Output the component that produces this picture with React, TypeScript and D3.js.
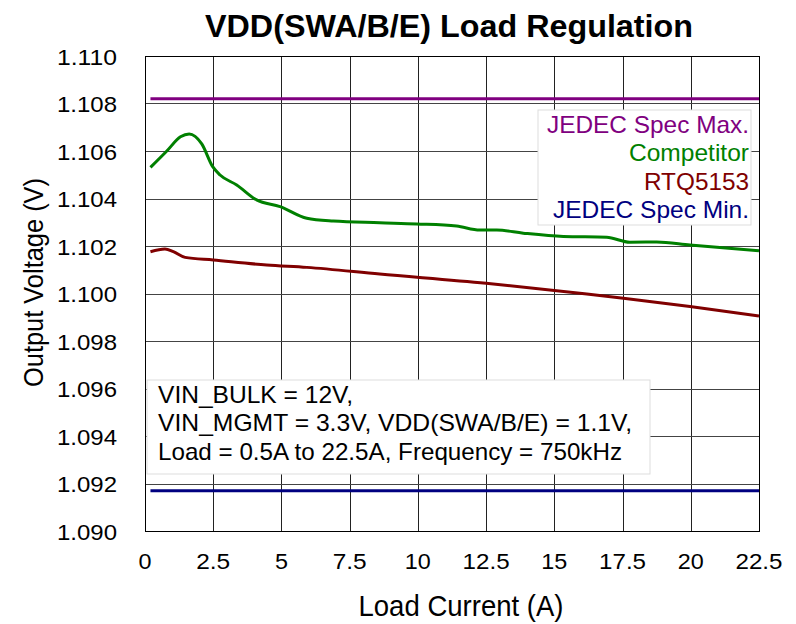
import React from "react";
import * as d3 from "d3";

const xTicks = [0, 2.5, 5, 7.5, 10, 12.5, 15, 17.5, 20, 22.5];
const xTickLabels = ["0", "2.5", "5", "7.5", "10", "12.5", "15", "17.5", "20", "22.5"];
const yTicks = [1.09, 1.092, 1.094, 1.096, 1.098, 1.1, 1.102, 1.104, 1.106, 1.108, 1.11];
const yTickLabels = ["1.090", "1.092", "1.094", "1.096", "1.098", "1.100", "1.102", "1.104", "1.106", "1.108", "1.110"];

const competitorX = [0.2, 0.8, 1.3, 1.62, 2.08, 2.48, 2.75, 3.36, 4.09, 4.95, 5.93, 6.9, 8.6, 9.96, 11.42, 12.27, 12.89, 13.86, 15.33, 16.92, 17.77, 18.75, 19.97, 22.5];
const competitorV = [1.10531, 1.1060, 1.1066, 1.10672, 1.1063, 1.10534, 1.10499, 1.10457, 1.10394, 1.10366, 1.10317, 1.10305, 1.10298, 1.10293, 1.10284, 1.10267, 1.10267, 1.10254, 1.1024, 1.10237, 1.10216, 1.10217, 1.10204, 1.1018];
const rtqX = [0.2, 0.73, 1.04, 1.47, 2.5, 4.46, 5.93, 8.6, 12.5, 16.19, 17.53, 19.97, 22.5];
const rtqV = [1.10176, 1.10187, 1.10176, 1.10152, 1.10141, 1.1012, 1.1011, 1.10082, 1.10043, 1.09998, 1.0998, 1.09945, 1.09905];
const specX = [0.2, 22.5];
const specMax = [1.1082, 1.1082];
const specMin = [1.0917, 1.0917];

const legendLabels = ["JEDEC Spec Max.", "Competitor", "RTQ5153", "JEDEC Spec Min."];
const legendColors = ["#800080", "#008000", "#800000", "#000080"];
const legendWidths = [202, 120, 105, 196];
const noteLines = [
  "VIN_BULK = 12V,",
  "VIN_MGMT = 3.3V, VDD(SWA/B/E) = 1.1V,",
  "Load = 0.5A to 22.5A, Frequency = 750kHz",
];
const noteWidths = [195, 474, 464];

const FONT = "'Liberation Sans', Arial, sans-serif";

const labelWidth = (s: string) => {
  let w = 0;
  for (const c of s) w += c === "." ? 8 : 13;
  return w;
};

export default function App() {
  const left = 145, right = 759, top = 56, bottom = 531;
  const x = d3.scaleLinear().domain([0, 22.5]).range([left, right]);
  const y = d3.scaleLinear().domain([1.09, 1.11]).range([bottom, top]);

  const line = (xs: number[], vs: number[], curve: d3.CurveFactory = d3.curveMonotoneX) =>
    d3
      .line<number>()
      .x((_, i) => x(xs[i]))
      .y((v) => y(v))
      .curve(curve)(vs) || "";

  return (
    <svg width={796} height={624} style={{ position: "absolute", left: 0, top: 0, background: "#fff" }} fontFamily={FONT}>
      <rect x={0} y={0} width={796} height={624} fill="#fff" />
      {xTicks.map((t) => (
        <line key={"gx" + t} x1={Math.round(x(t)) + 0.5} x2={Math.round(x(t)) + 0.5} y1={top} y2={bottom} stroke="#222" strokeWidth={1} />
      ))}
      {yTicks.map((t) => (
        <line key={"gy" + t} x1={left} x2={right} y1={Math.round(y(t)) + 0.5} y2={Math.round(y(t)) + 0.5} stroke="#444" strokeWidth={1} />
      ))}
      <rect x={left + 0.5} y={top + 0.5} width={right - left} height={bottom - top} fill="none" stroke="#000" strokeWidth={1} />

      <path d={line(specX, specMax, d3.curveLinear)} fill="none" stroke="#800080" strokeWidth={3} />
      <path d={line(specX, specMin, d3.curveLinear)} fill="none" stroke="#000080" strokeWidth={3} />
      <path d={line(competitorX, competitorV)} fill="none" stroke="#008000" strokeWidth={3} />
      <path d={line(rtqX, rtqV)} fill="none" stroke="#800000" strokeWidth={3} />

      <rect x={538} y={110} width={213} height={115} fill="#fff" stroke="#ddd" strokeWidth={1} />
      {legendLabels.map((l, i) => (
        <text key={l} x={749} y={133 + i * 28.4} textAnchor="end" fontSize={24} fill={legendColors[i]} textLength={legendWidths[i]} lengthAdjust="spacingAndGlyphs">
          {l}
        </text>
      ))}

      <rect x={147} y={380} width={503} height={94} fill="#fff" stroke="#ddd" strokeWidth={1} />
      {noteLines.map((l, i) => (
        <text key={l} x={158} y={403 + i * 28.3} fontSize={24} fill="#000" textLength={noteWidths[i]} lengthAdjust="spacingAndGlyphs">
          {l}
        </text>
      ))}

      {yTicks.map((t, i) => (
        <text key={"yl" + t} x={117} y={y(t) + 8.5} textAnchor="end" fontSize={22} fill="#000" textLength={labelWidth(yTickLabels[i])} lengthAdjust="spacingAndGlyphs">
          {yTickLabels[i]}
        </text>
      ))}
      {xTicks.map((t, i) => (
        <text key={"xl" + t} x={x(t)} y={569} textAnchor="middle" fontSize={22} fill="#000" textLength={labelWidth(xTickLabels[i])} lengthAdjust="spacingAndGlyphs">
          {xTickLabels[i]}
        </text>
      ))}

      <text x={461} y={616} textAnchor="middle" fontSize={29} fill="#000" textLength={205} lengthAdjust="spacingAndGlyphs">
        Load Current (A)
      </text>
      <text transform="translate(43,282.5) rotate(-90)" textAnchor="middle" fontSize={28} fill="#000" textLength={209} lengthAdjust="spacingAndGlyphs">
        Output Voltage (V)
      </text>
      <text x={449} y={36.5} textAnchor="middle" fontSize={32} fontWeight="bold" fill="#000" textLength={488} lengthAdjust="spacingAndGlyphs">
        VDD(SWA/B/E) Load Regulation
      </text>
    </svg>
  );
}
